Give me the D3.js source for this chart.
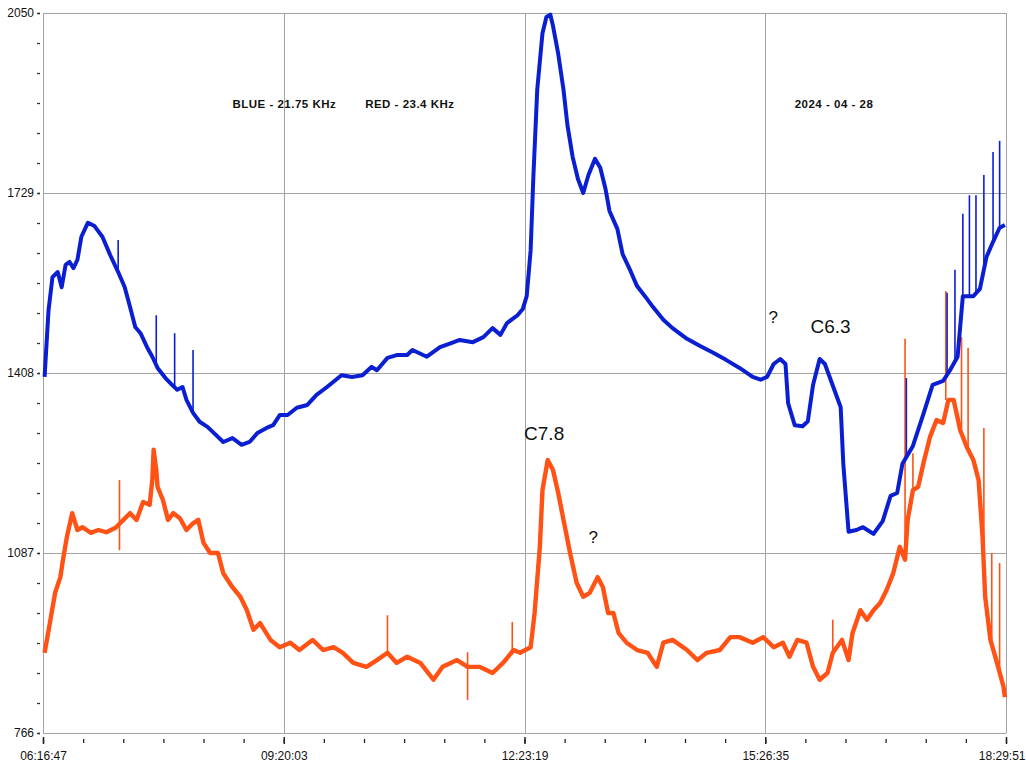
<!DOCTYPE html>
<html>
<head>
<meta charset="utf-8">
<script src="https://cdn.jsdelivr.net/npm/d3@7"></script>
<style>
  html, body { margin: 0; padding: 0; background: #fff; }
  svg { display: block; font-family: Arial, "Liberation Sans", sans-serif; }
</style>
</head>
<body>
<svg id="chart" width="1026" height="765"></svg>
<script>
// VLF receiver log, two transmitters, 2024-04-28
const startTime = "06:16:47";
const endTime = "18:29:51";
const xTickLabels = ["06:16:47", "09:20:03", "12:23:19", "15:26:35", "18:29:51"];
const yTickLabels = [766, 1087, 1408, 1729, 2050];

// 21.75 kHz signal
const blueTimes = ["06:18","06:21","06:24","06:28","06:31","06:34","06:37","06:40","06:43","06:46","06:51","06:56","07:02","07:08","07:14","07:19","07:23","07:27","07:31","07:36","07:40","07:44","07:50","07:55","07:59","08:03","08:06","08:11","08:16","08:22","08:26","08:34","08:41","08:48","08:54","09:00","09:07","09:12","09:17","09:23","09:30","09:38","09:45","09:53","10:04","10:12","10:20","10:27","10:31","10:39","10:46","10:54","10:58","11:09","11:19","11:27","11:34","11:44","11:52","11:59","12:05","12:10","12:18","12:22","12:25","12:28","12:30","12:33","12:37","12:40","12:43","12:45","12:49","12:53","12:56","13:00","13:04","13:08","13:12","13:17","13:21","13:25","13:28","13:34","13:38","13:44","13:49","13:55","14:01","14:09","14:16","14:27","14:37","14:47","14:57","15:07","15:17","15:23","15:28","15:33","15:38","15:42","15:44","15:49","15:55","15:59","16:03","16:08","16:12","16:17","16:24","16:26","16:30","16:36","16:41","16:49","16:56","17:02","17:07","17:11","17:19","17:27","17:34","17:42","17:47","17:53","17:57","18:05","18:10","18:15","18:20","18:25","18:29"];
const blueValues = [1401,1520,1579,1588,1561,1601,1606,1595,1610,1651,1676,1670,1651,1618,1588,1561,1526,1490,1479,1454,1437,1417,1399,1387,1378,1383,1360,1337,1321,1312,1303,1285,1292,1280,1285,1301,1310,1315,1333,1333,1346,1351,1369,1383,1404,1401,1404,1419,1413,1435,1440,1440,1449,1437,1454,1461,1467,1463,1472,1488,1476,1497,1511,1522,1545,1627,1754,1913,2014,2043,2047,2027,1977,1913,1850,1793,1754,1729,1761,1790,1774,1736,1697,1665,1620,1590,1563,1545,1526,1503,1488,1469,1456,1444,1431,1417,1401,1396,1401,1424,1433,1424,1354,1315,1313,1322,1387,1433,1424,1392,1347,1246,1125,1128,1133,1121,1144,1189,1194,1246,1278,1335,1387,1394,1412,1437,1545,1545,1558,1615,1642,1667,1672];

// 23.4 kHz signal
const redTimes = ["06:18","06:22","06:26","06:30","06:32","06:35","06:39","06:43","06:47","06:53","06:59","07:05","07:12","07:18","07:23","07:28","07:33","07:38","07:40","07:41","07:43","07:44","07:48","07:52","07:56","08:01","08:06","08:11","08:15","08:19","08:24","08:30","08:34","08:41","08:47","08:52","08:57","09:02","09:10","09:17","09:25","09:32","09:42","09:50","09:58","10:05","10:13","10:23","10:31","10:39","10:46","10:54","11:04","11:14","11:21","11:32","11:40","11:49","11:59","12:07","12:15","12:20","12:28","12:31","12:35","12:37","12:41","12:45","12:49","12:53","12:58","13:03","13:08","13:13","13:19","13:23","13:27","13:31","13:35","13:41","13:49","13:57","14:04","14:09","14:16","14:27","14:35","14:42","14:52","15:00","15:07","15:17","15:25","15:33","15:40","15:45","15:51","15:58","16:03","16:08","16:14","16:18","16:25","16:30","16:33","16:39","16:44","16:49","16:54","16:59","17:04","17:09","17:13","17:15","17:19","17:23","17:27","17:32","17:37","17:42","17:46","17:50","17:55","18:00","18:05","18:09","18:12","18:14","18:18","18:23","18:28","18:29"];
const redValues = [909,962,1016,1044,1075,1116,1158,1128,1133,1123,1128,1124,1132,1146,1158,1146,1178,1173,1217,1271,1235,1205,1182,1146,1158,1149,1128,1140,1146,1105,1087,1087,1051,1026,1009,985,950,962,932,919,927,914,932,914,919,909,891,884,896,909,891,902,891,861,884,896,884,884,873,891,914,909,919,980,1098,1199,1253,1235,1194,1146,1087,1034,1009,1016,1044,1026,980,980,944,927,914,909,884,927,932,914,896,909,914,937,937,927,937,919,927,902,932,927,884,861,873,909,932,896,944,985,968,985,998,1021,1051,1098,1075,1146,1199,1205,1247,1294,1324,1319,1360,1360,1306,1276,1253,1217,1116,1009,932,891,848,830];

// short impulsive spikes: time, level before, peak level
const blueSpikeTimes = ["07:14","07:43","07:57","08:11","17:14","17:45","17:51","17:57","18:02","18:07","18:13","18:20","18:25"];
const blueSpikeBase  = [1588,1420,1382,1337,1255,1400,1430,1540,1545,1550,1600,1642,1667];
const blueSpikeTop   = [1645,1511,1479,1449,1399,1551,1592,1692,1725,1725,1761,1802,1822];
const redSpikeTimes = ["07:15","10:39","11:40","12:14","16:18","17:13","17:19","17:44","17:56","18:01","18:13","18:19","18:25"];
const redSpikeBase  = [1092,909,910,905,909,1083,1199,1360,1306,1276,1009,914,869];
const redSpikeTop   = [1217,976,825,964,968,1469,1265,1554,1472,1453,1310,1087,1069];

// event annotations
const noteTexts  = ["C7.8", "?", "?", "C6.3"];
const noteTimes  = ["12:23", "13:12", "15:29", "16:01"];
const noteValues = [1289, 1105, 1497, 1479];

const headerTexts = ["BLUE - 21.75 KHz", "RED - 23.4 KHz", "2024 - 04 - 28"];
const headerTimes = ["08:41", "10:22", "15:49"];
const headerValue = 1880;

// ---------------------------------------------------------------
const parseT = d3.timeParse("%H:%M:%S");
const parseM = d3.timeParse("%H:%M");
const svg = d3.select("#chart");
const plotLeft = 43, plotRight = 1006, plotTop = 13, plotBottom = 733;

const x = d3.scaleTime()
  .domain([parseT(startTime), parseT(endTime)])
  .range([plotLeft, plotRight]);
const y = d3.scaleLinear()
  .domain([yTickLabels[0], yTickLabels[yTickLabels.length - 1]])
  .range([plotBottom, plotTop]);

const xMajor = xTickLabels.map(parseT);
const yStep = (yTickLabels[1] - yTickLabels[0]) / 6;
const yMinor = d3.range(yTickLabels[0], yTickLabels[yTickLabels.length - 1] + 1e-6, yStep);
const xMinor = [];
for (let i = 0; i < xMajor.length - 1; i++) {
  const a = +xMajor[i], b = +xMajor[i + 1];
  for (let k = 0; k < 6; k++) xMinor.push(new Date(a + (b - a) * k / 6));
}
xMinor.push(xMajor[xMajor.length - 1]);

// grid and frame
const grid = svg.append("g").attr("stroke", "#a3a3a3").attr("stroke-width", 1);
grid.selectAll("line.h").data(yTickLabels).join("line")
  .attr("x1", plotLeft).attr("x2", plotRight)
  .attr("y1", d => Math.round(y(d)) + 0.5).attr("y2", d => Math.round(y(d)) + 0.5);
grid.selectAll("line.v").data(xMajor).join("line")
  .attr("y1", plotTop).attr("y2", plotBottom)
  .attr("x1", d => Math.round(x(d)) + 0.5).attr("x2", d => Math.round(x(d)) + 0.5);

// y axis: minor dashes plus labelled majors
const yAxisMinor = d3.axisLeft(y).tickValues(yMinor).tickSize(3).tickFormat("");
svg.append("g").attr("transform", `translate(${plotLeft - 3},0)`).call(yAxisMinor)
  .call(g => g.select(".domain").remove())
  .call(g => g.selectAll("line").attr("stroke", "#333").attr("stroke-width", 1.3));
const yAxisMajor = d3.axisLeft(y).tickValues(yTickLabels).tickSize(2).tickPadding(4).tickFormat(d3.format("d"));
svg.append("g").attr("transform", `translate(${plotLeft - 3},0)`).call(yAxisMajor)
  .call(g => g.select(".domain").remove())
  .call(g => g.selectAll("line").attr("stroke", "#333").attr("stroke-width", 1.3))
  .call(g => g.selectAll("text").attr("font-size", 12).attr("fill", "#111")
    .attr("font-family", "Arial, 'Liberation Sans', sans-serif"));

// x axis: minor and major ticks below the frame
const xAxisMinor = d3.axisBottom(x).tickValues(xMinor).tickSize(4).tickFormat("");
svg.append("g").attr("transform", `translate(0,${plotBottom + 6})`).call(xAxisMinor)
  .call(g => g.select(".domain").remove())
  .call(g => g.selectAll("line").attr("stroke", "#222").attr("stroke-width", 1.3));
const xAxisMajor = d3.axisBottom(x).tickValues(xMajor).tickSize(7).tickPadding(7)
  .tickFormat((d, i) => xTickLabels[i]);
svg.append("g").attr("transform", `translate(0,${plotBottom + 4})`).call(xAxisMajor)
  .call(g => g.select(".domain").remove())
  .call(g => g.selectAll("line").attr("stroke", "#222").attr("stroke-width", 1.5))
  .call(g => g.selectAll("text").attr("font-size", 12).attr("fill", "#111")
    .attr("font-family", "Arial, 'Liberation Sans', sans-serif"))
  // the last time label sits against the right edge of the page
  .call(g => g.selectAll("text").filter((d, i, n) => i === n.length - 1)
    .attr("text-anchor", "end").attr("dx", 19));

// header text
svg.append("g").selectAll("text").data(headerTexts).join("text")
  .attr("x", (d, i) => x(parseM(headerTimes[i])))
  .attr("y", y(headerValue))
  .attr("font-size", 11.5).attr("font-weight", "bold").attr("letter-spacing", 0.5)
  .attr("fill", "#111")
  .text(d => d);

// series
const series = [
  { times: redTimes, values: redValues, color: "#ff5214", width: 4.4,
    spikeTimes: redSpikeTimes, spikeBase: redSpikeBase, spikeTop: redSpikeTop },
  { times: blueTimes, values: blueValues, color: "#0b1fd2", width: 4,
    spikeTimes: blueSpikeTimes, spikeBase: blueSpikeBase, spikeTop: blueSpikeTop }
];
const line = d3.line().x(d => x(d.t)).y(d => y(d.v)).curve(d3.curveLinear);

series.forEach(s => {
  const pts = s.times.map((t, i) => ({ t: parseM(t), v: s.values[i] }));
  const g = svg.append("g");
  g.append("path").datum(pts)
    .attr("fill", "none").attr("stroke", s.color)
    .attr("stroke-width", s.width).attr("stroke-linejoin", "round")
    .attr("d", line);
  g.selectAll("line").data(s.spikeTimes).join("line")
    .attr("x1", d => x(parseM(d))).attr("x2", d => x(parseM(d)))
    .attr("y1", (d, i) => y(s.spikeBase[i])).attr("y2", (d, i) => y(s.spikeTop[i]))
    .attr("stroke", s.color).attr("stroke-width", 1.6);
});

// annotations
svg.append("g").selectAll("text").data(noteTexts).join("text")
  .attr("x", (d, i) => x(parseM(noteTimes[i])))
  .attr("y", (d, i) => y(noteValues[i]))
  .attr("font-size", (d) => d === "?" ? 17 : 19)
  .attr("fill", "#111")
  .text(d => d);
</script>
</body>
</html>
